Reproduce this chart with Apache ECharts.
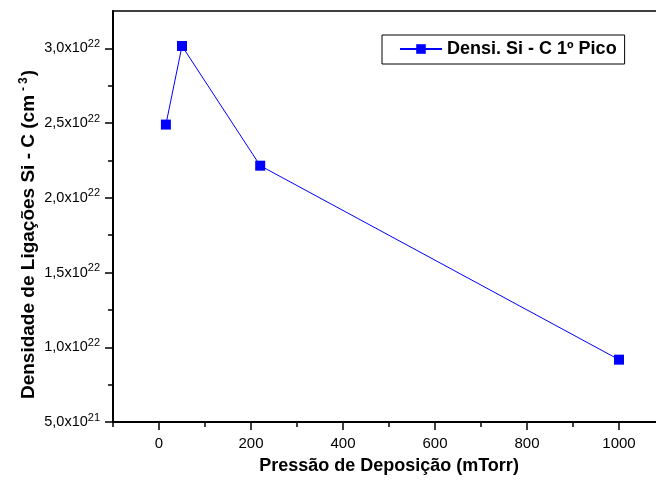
<!DOCTYPE html>
<html>
<head>
<meta charset="utf-8">
<script src="https://cdn.jsdelivr.net/npm/echarts@6/dist/echarts.min.js"></script>
<style>
  html, body { margin: 0; padding: 0; background: #fff; }
  #chart { width: 656px; height: 484px; }
</style>
</head>
<body>
<div id="chart"></div>
<script>
// Deposition pressure (mTorr) and Si-C bond density (cm^-3), first peak
const pressure = [15, 50, 220, 1000];
const density = [2.49e22, 3.016e22, 2.215e22, 0.917e22];

const xMajorTicks = [0, 200, 400, 600, 800, 1000];
const xMinorTicks = [-100, 100, 300, 500, 700, 900, 1100];
const yMajorTicks = [5e21, 1e22, 1.5e22, 2e22, 2.5e22, 3e22];
const yMinorTicks = [7.5e21, 1.25e22, 1.75e22, 2.25e22, 2.75e22];

const seriesName = 'Densi. Si - C 1º Pico';
const xTitle = 'Pressão de Deposição (mTorr)';

const FONT = '"Liberation Sans", Arial, sans-serif';

// "3,0x10^22" style label built from a number
function sciLabel(v) {
  const e = Math.floor(Math.log10(v) + 1e-9);
  const m = v / Math.pow(10, e);
  return '{m|' + m.toFixed(1).replace('.', ',') + 'x10}{e|' + e + '}';
}

const chart = echarts.init(document.getElementById('chart'), null, { renderer: 'canvas' });

const X_MIN = -100, X_MAX = 1100;
const Y_MIN = 5e21, Y_MAX = 3.25e22;

chart.setOption({
  animation: false,
  backgroundColor: '#fff',
  grid: {
    left: 113, top: 11, width: 552, height: 411,
    show: true, borderColor: '#000', borderWidth: 1.5,
    containLabel: false,
    outerBoundsMode: 'none'
  },
  legend: {
    left: 382, top: 35,
    padding: [5, 8, 6, 17],
    borderColor: '#000', borderWidth: 1,
    itemWidth: 42, itemHeight: 12,
    textStyle: { fontFamily: FONT, fontWeight: 'bold', fontSize: 18, color: '#000' },
    data: [seriesName]
  },
  xAxis: [
    {
      type: 'value', min: X_MIN, max: X_MAX,
      name: xTitle, nameLocation: 'middle', nameGap: 35, nameMoveOverlap: false,
      nameTextStyle: { fontFamily: FONT, fontWeight: 'bold', fontSize: 18, color: '#000' },
      axisLine: { show: true, onZero: false, lineStyle: { color: '#000', width: 2 } },
      axisTick: { show: true, inside: false, length: 8, customValues: xMajorTicks, lineStyle: { color: '#000', width: 1.5 } },
      axisLabel: {
        show: true, customValues: xMajorTicks, margin: 14,
        formatter: v => String(v),
        fontFamily: FONT, fontSize: 15, color: '#000'
      },
      splitLine: { show: false }
    },
    {
      type: 'value', min: X_MIN, max: X_MAX, position: 'bottom',
      axisLine: { show: false, onZero: false },
      axisTick: { show: true, inside: false, length: 5, customValues: xMinorTicks, lineStyle: { color: '#000', width: 1.5 } },
      axisLabel: { show: false },
      splitLine: { show: false }
    }
  ],
  yAxis: [
    {
      type: 'value', min: Y_MIN, max: Y_MAX,
      name: '{t|Densidade de Ligações Si - C (cm}{s|-}{s3|3}{t|)}',
      nameLocation: 'middle', nameGap: 73, nameMoveOverlap: false,
      nameTextStyle: {
        padding: [0, 36, 0, 0],
        rich: {
          t: { fontFamily: FONT, fontWeight: 'bold', fontSize: 19, color: '#000' },
          s: { fontFamily: FONT, fontWeight: 'bold', fontSize: 12, color: '#000', padding: [0, 3, 10, 4] },
          s3: { fontFamily: FONT, fontWeight: 'bold', fontSize: 12, color: '#000', padding: [0, 1, 10, 0] }
        }
      },
      axisLine: { show: true, onZero: false, lineStyle: { color: '#000', width: 2 } },
      axisTick: { show: true, inside: false, length: 8, customValues: yMajorTicks, lineStyle: { color: '#000', width: 1.5 } },
      axisLabel: {
        show: true, customValues: yMajorTicks, margin: 13,
        formatter: sciLabel,
        rich: {
          m: { fontFamily: FONT, fontSize: 14.5, color: '#000' },
          e: { fontFamily: FONT, fontSize: 11, color: '#000', padding: [0, 0, 9, 0] }
        }
      },
      splitLine: { show: false }
    },
    {
      type: 'value', min: Y_MIN, max: Y_MAX, position: 'left',
      axisLine: { show: false, onZero: false },
      axisTick: { show: true, inside: false, length: 5, customValues: yMinorTicks, lineStyle: { color: '#000', width: 1.5 } },
      axisLabel: { show: false },
      splitLine: { show: false }
    }
  ],
  series: [
    {
      name: seriesName,
      type: 'line',
      xAxisIndex: 0, yAxisIndex: 0,
      data: pressure.map((p, i) => [p, density[i]]),
      symbol: 'rect', symbolSize: 10,
      itemStyle: { color: '#0000ff' },
      lineStyle: { color: '#0000ff', width: 1 }
    }
  ]
});
</script>
</body>
</html>
